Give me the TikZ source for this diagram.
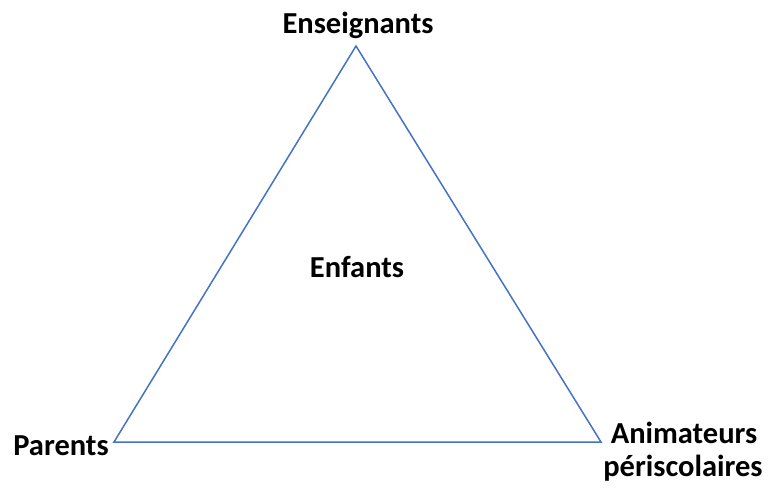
\documentclass[tikz,border=0pt]{standalone}
\usepackage{fontspec}
\setmainfont{Carlito}
\definecolor{triblue}{HTML}{4472C4}
\begin{document}
\begin{tikzpicture}[x=1pt,y=-1pt,
  lbl/.style={font=\fontsize{30.5}{36}\selectfont\bfseries, inner sep=0pt, anchor=base},
  edge/.style={draw=triblue, line width=1.5pt, line join=miter}]
\useasboundingbox (0,0) rectangle (770,489);
\coordinate (T) at (356,46);
\coordinate (L) at (114,442);
\coordinate (R) at (601,442);
\draw[edge] (T) -- (L) -- (R) -- cycle;
\node[lbl] (ens) at (358,34) {Enseignants};
\node[lbl] (enf) at (357,277) {Enfants};
\node[lbl] (par) at (61,455) {Parents};
\node[lbl] (ani) at (684,443) {Animateurs};
\node[lbl] (per) at (683,476) {périscolaires};
\end{tikzpicture}
\end{document}
